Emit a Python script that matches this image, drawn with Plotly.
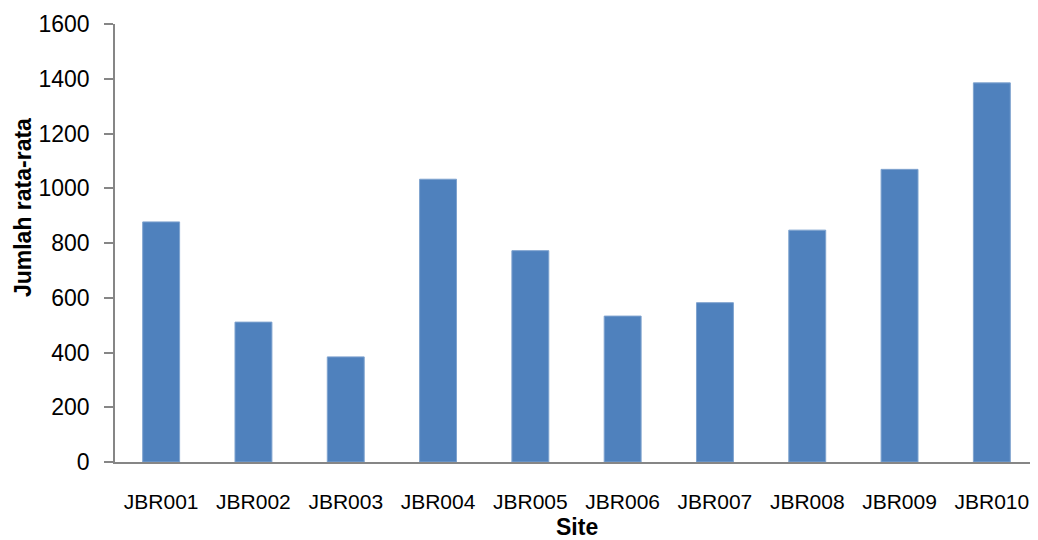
import plotly.graph_objects as go

sites = ["JBR001", "JBR002", "JBR003", "JBR004", "JBR005",
         "JBR006", "JBR007", "JBR008", "JBR009", "JBR010"]
values = [877, 511, 384, 1033, 772, 533, 582, 847, 1069, 1385]
y_ticks = [0, 200, 400, 600, 800, 1000, 1200, 1400, 1600]

FONT = "Liberation Sans, Arial, sans-serif"

# The page body has an 8px default margin, so the figure is sized to fit the window.
fig = go.Figure()
fig.add_trace(go.Bar(
    x=sites, y=values,
    marker=dict(color="#4F81BD", line=dict(color="#7FA3CF", width=1)),
))

fig.update_layout(
    width=1030, height=532,
    margin=dict(l=107, r=0, t=16, b=78, autoexpand=False),
    paper_bgcolor="#FFFFFF", plot_bgcolor="#FFFFFF",
    bargap=0.6,
    showlegend=False,
    font=dict(family=FONT, color="#000000"),
)
fig.update_xaxes(
    showline=True, linecolor="#868686", linewidth=1.5,
    showgrid=False, ticks="", tickfont=dict(size=21, family=FONT),
    ticklabelstandoff=20,
)
fig.update_yaxes(
    range=[0, 1600], tickvals=y_ticks,
    showline=True, linecolor="#868686", linewidth=1.5,
    showgrid=False, zeroline=False,
    ticks="outside", ticklen=9, tickcolor="#868686", tickwidth=1.5,
    tickfont=dict(size=23, family=FONT),
    ticklabelstandoff=10,
)
fig.add_annotation(
    text="<b>Jumlah rata-rata</b>", textangle=-90,
    xref="paper", yref="paper", x=-0.0997, y=0.582,
    xanchor="center", yanchor="middle", showarrow=False,
    font=dict(size=23, family=FONT),
)
fig.add_annotation(
    text="<b>Site</b>",
    xref="paper", yref="paper", x=0.5, y=-0.148,
    xanchor="center", yanchor="middle", showarrow=False,
    font=dict(size=23, family=FONT),
)
fig.write_html("out.html")
